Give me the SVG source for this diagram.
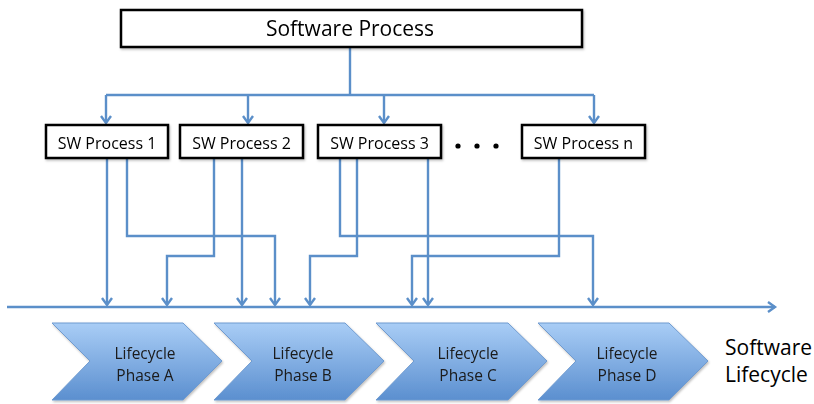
<svg xmlns="http://www.w3.org/2000/svg" width="814" height="404" viewBox="0 0 814 404">
<defs>
<linearGradient id="chev" x1="0" y1="0" x2="0" y2="1">
<stop offset="0" stop-color="#a9cdf6"/>
<stop offset="1" stop-color="#5b8fcf"/>
</linearGradient>
<marker id="arr" markerUnits="userSpaceOnUse" markerWidth="14" markerHeight="14" refX="9" refY="6" orient="auto" viewBox="0 0 14 12">
<path d="M2,1 L9,6 L2,11" fill="none" stroke="#5b8fc9" stroke-width="2.4" stroke-linejoin="miter"/>
</marker>
<filter id="sh" x="-10%" y="-10%" width="130%" height="130%">
<feDropShadow dx="1" dy="1.5" stdDeviation="1.2" flood-color="#000" flood-opacity="0.25"/>
</filter>
</defs>
<style>
.box{fill:#fff;stroke:#000;stroke-width:2.5}
.lbl{font-family:"Open Sans","Liberation Sans",sans-serif;fill:#000;text-anchor:middle}
.ph{font-family:"Open Sans","Liberation Sans",sans-serif;font-size:15.5px;fill:#1a1a1a;text-anchor:middle}
.cn{fill:none;stroke:#5b8fc9;stroke-width:2.4}
.cv{fill:url(#chev);stroke:#6f9bd0;stroke-width:1}
.sl{font-family:"Open Sans","Liberation Sans",sans-serif;font-size:21px;fill:#000}
</style>
<g id="connectors">
<path class="cn" d="M350,47 V95"/>
<path class="cn" d="M106,95 H594"/>
<path class="cn" d="M106,95 V123" marker-end="url(#arr)"/>
<path class="cn" d="M248,95 V123" marker-end="url(#arr)"/>
<path class="cn" d="M384,95 V123" marker-end="url(#arr)"/>
<path class="cn" d="M594,95 V123" marker-end="url(#arr)"/>
<path class="cn" d="M7,307 H775" marker-end="url(#arr)"/>
<path class="cn" d="M107,158 V305" marker-end="url(#arr)"/>
<path class="cn" d="M127,158 V236 H275 V305" marker-end="url(#arr)"/>
<path class="cn" d="M214,158 V256 H167 V305" marker-end="url(#arr)"/>
<path class="cn" d="M242,158 V305" marker-end="url(#arr)"/>
<path class="cn" d="M340,158 V236 H593 V305" marker-end="url(#arr)"/>
<path class="cn" d="M357,158 V256 H310 V305" marker-end="url(#arr)"/>
<path class="cn" d="M428,158 V305" marker-end="url(#arr)"/>
<path class="cn" d="M559,158 V256 H412 V305" marker-end="url(#arr)"/>
</g>
<g id="software-process" filter="url(#sh)">
<rect class="box" x="121" y="10" width="461" height="37"/>
<text class="lbl" x="350" y="36" font-size="21">Software Process</text>
</g>
<g id="sw-process-1" filter="url(#sh)">
<rect class="box" x="46" y="125" width="122" height="33"/>
<text class="lbl" x="107" y="148.5" font-size="16">SW Process 1</text>
</g>
<g id="sw-process-2" filter="url(#sh)">
<rect class="box" x="180" y="125" width="123" height="33"/>
<text class="lbl" x="241.5" y="148.5" font-size="16">SW Process 2</text>
</g>
<g id="sw-process-3" filter="url(#sh)">
<rect class="box" x="318" y="125" width="123" height="33"/>
<text class="lbl" x="379.5" y="148.5" font-size="16">SW Process 3</text>
</g>
<g id="ellipsis">
<circle cx="458" cy="146" r="2.6" fill="#000"/>
<circle cx="477" cy="146" r="2.6" fill="#000"/>
<circle cx="496" cy="146" r="2.6" fill="#000"/>
</g>
<g id="sw-process-n" filter="url(#sh)">
<rect class="box" x="522" y="125" width="123" height="33"/>
<text class="lbl" x="583.5" y="148.5" font-size="16">SW Process n</text>
</g>
<g id="phase-a" filter="url(#sh)">
<path class="cv" d="M52,323 H183 L222,361 L183,400 H52 L90,361 Z"/>
<text class="ph" x="145" y="359">Lifecycle</text>
<text class="ph" x="145" y="381">Phase A</text>
</g>
<g id="phase-b" filter="url(#sh)">
<path class="cv" d="M214,323 H345 L384,361 L345,400 H214 L252,361 Z"/>
<text class="ph" x="303" y="359">Lifecycle</text>
<text class="ph" x="303" y="381">Phase B</text>
</g>
<g id="phase-c" filter="url(#sh)">
<path class="cv" d="M376,323 H508 L547,361 L508,400 H376 L414,361 Z"/>
<text class="ph" x="468" y="359">Lifecycle</text>
<text class="ph" x="468" y="381">Phase C</text>
</g>
<g id="phase-d" filter="url(#sh)">
<path class="cv" d="M538,323 H669 L708,361 L669,400 H538 L576,361 Z"/>
<text class="ph" x="627" y="359">Lifecycle</text>
<text class="ph" x="627" y="381">Phase D</text>
</g>
<g id="software-lifecycle">
<text class="sl" x="725" y="355">Software</text>
<text class="sl" x="725" y="382">Lifecycle</text>
</g>
</svg>
